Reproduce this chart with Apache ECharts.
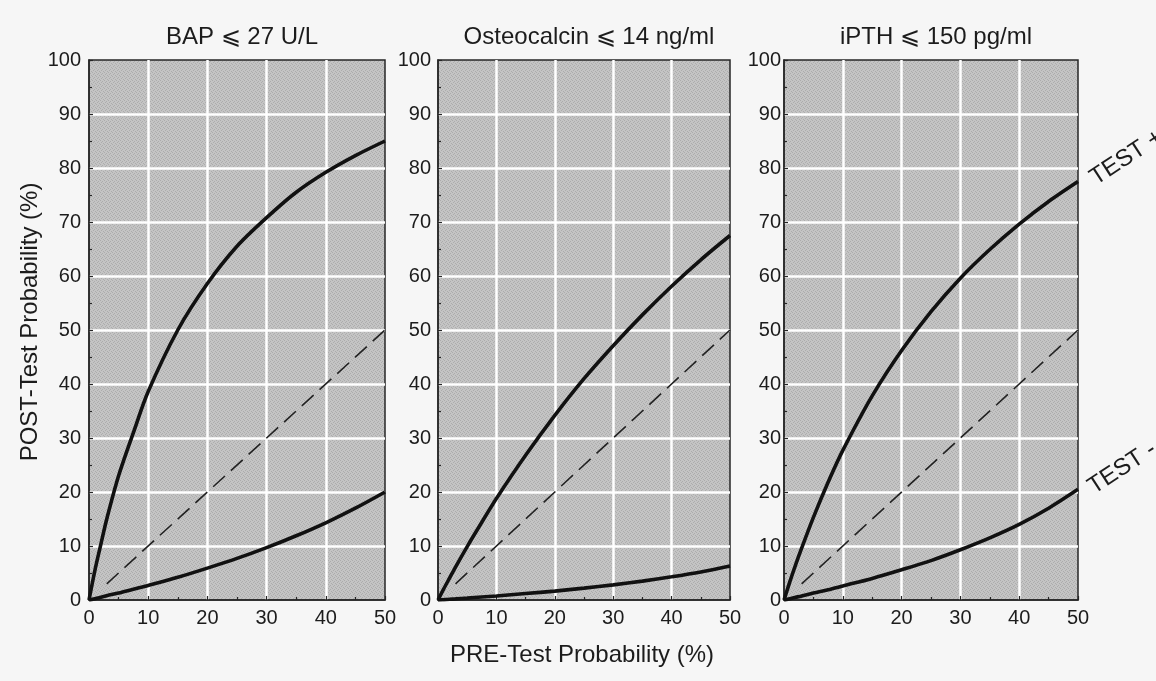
<!DOCTYPE html>
<html>
<head>
<meta charset="utf-8">
<script src="https://cdn.jsdelivr.net/npm/echarts@6/dist/echarts.min.js"></script>
<style>
html,body{margin:0;padding:0;background:#f6f6f6;}
#c{width:1156px;height:681px;}
</style>
</head>
<body>
<div id="c"></div>
<script>
// Data
const panelTitles = ['BAP \u2A7D 27 U/L', 'Osteocalcin \u2A7D 14 ng/ml', 'iPTH \u2A7D 150 pg/ml'];
const preTest = [0, 1, 2, 3, 5, 7.5, 10, 15, 20, 25, 30, 35, 40, 45, 50];
const bapPos = [0, 5.5, 10.3, 15, 23, 31, 38.6, 50, 58.6, 65.5, 70.8, 75.5, 79.2, 82.3, 85];
const bapNeg = [0, 0.25, 0.5, 0.8, 1.3, 2, 2.7, 4.2, 5.9, 7.7, 9.7, 11.9, 14.3, 17, 20];
const ostPos = [0, 2.1, 4.1, 6.1, 9.9, 14.4, 18.8, 26.8, 34.2, 41, 47.1, 52.8, 58.1, 63, 67.5];
const ostNeg = [0, 0.07, 0.14, 0.2, 0.35, 0.55, 0.74, 1.2, 1.65, 2.2, 2.8, 3.5, 4.3, 5.2, 6.3];
const pthPos = [0, 3.4, 6.6, 9.6, 15.3, 21.8, 27.7, 37.8, 46.2, 53.4, 59.6, 64.9, 69.6, 73.8, 77.5];
const pthNeg = [0, 0.25, 0.5, 0.75, 1.3, 1.9, 2.6, 4, 5.6, 7.3, 9.3, 11.5, 14, 17, 20.5];
const diagX = [3, 50];
const diagY = [3, 50];
const xTicks = {min: 0, max: 50, interval: 10};
const yTicks = {min: 0, max: 100, interval: 10};

const posSeries = [bapPos, ostPos, pthPos];
const negSeries = [bapNeg, ostNeg, pthNeg];

const gridBoxes = [
  {left: 89, width: 296, labelMargin: 8},
  {left: 438, width: 292, labelMargin: 7},
  {left: 784, width: 294, labelMargin: 3}
];
const FONT = '"Liberation Sans", Arial, Helvetica, sans-serif';
const INK = '#1c1c1c';

// stippled grey background pattern
function makePattern() {
  const c = document.createElement('canvas');
  c.width = 4; c.height = 4;
  const ctx = c.getContext('2d');
  ctx.fillStyle = '#c4c4c4';
  ctx.fillRect(0, 0, 4, 4);
  ctx.fillStyle = '#acacac';
  [[0,0],[2,1],[1,2],[3,3]].forEach(p => ctx.fillRect(p[0], p[1], 1, 1));
  return c;
}
const pattern = {image: makePattern(), repeat: 'repeat'};

function pairs(xs, ys) { return xs.map((x, i) => [x, ys[i]]); }

const grids = [], xAxes = [], yAxes = [], series = [], titles = [];
gridBoxes.forEach((g, i) => {
  grids.push({left: g.left, top: 60, width: g.width, height: 540, show: true,
    backgroundColor: pattern, borderColor: '#262626', borderWidth: 1.5, z: 0});
  xAxes.push({gridIndex: i, type: 'value', min: xTicks.min, max: xTicks.max, interval: xTicks.interval,
    axisLine: {show: true, lineStyle: {color: '#262626', width: 1.5}},
    axisTick: {show: true, inside: true, length: 4, lineStyle: {color: '#262626', width: 1.2}},
    minorTick: {show: true, splitNumber: 2, length: 3, lineStyle: {color: '#262626', width: 1.2}},
    axisLabel: {fontSize: 20, color: INK, margin: 8, fontFamily: FONT},
    splitLine: {show: true, showMinLine: false, showMaxLine: false, lineStyle: {color: '#ffffff', width: 2.5}}});
  yAxes.push({gridIndex: i, type: 'value', min: yTicks.min, max: yTicks.max, interval: yTicks.interval,
    axisLine: {show: true, lineStyle: {color: '#262626', width: 1.5}},
    axisTick: {show: true, inside: true, length: 4, lineStyle: {color: '#262626', width: 1.2}},
    minorTick: {show: true, splitNumber: 2, length: 3, lineStyle: {color: '#262626', width: 1.2}},
    axisLabel: {fontSize: 20, color: INK, margin: g.labelMargin, fontFamily: FONT},
    splitLine: {show: true, showMinLine: false, showMaxLine: false, lineStyle: {color: '#ffffff', width: 2.5}}});
  titles.push({text: panelTitles[i], left: g.left + g.width / 2, top: 20, textAlign: 'center',
    textStyle: {fontSize: 24, fontWeight: 'normal', color: INK, fontFamily: FONT}});
  series.push({type: 'line', xAxisIndex: i, yAxisIndex: i, data: pairs(preTest, posSeries[i]),
    smooth: 0.3, showSymbol: false, lineStyle: {color: '#111', width: 3.6}, z: 5});
  series.push({type: 'line', xAxisIndex: i, yAxisIndex: i, data: pairs(preTest, negSeries[i]),
    smooth: 0.3, showSymbol: false, lineStyle: {color: '#111', width: 3.6}, z: 5});
  series.push({type: 'line', xAxisIndex: i, yAxisIndex: i, data: pairs(diagX, diagY),
    showSymbol: false, lineStyle: {color: '#222', width: 1.6, type: [16, 8]}, z: 4});
});

const chart = echarts.init(document.getElementById('c'));
chart.setOption({
  backgroundColor: '#f6f6f6',
  animation: false,
  title: titles,
  grid: grids,
  xAxis: xAxes,
  yAxis: yAxes,
  series: series,
  graphic: [
    {type: 'text', x: 582, y: 655, style: {text: 'PRE-Test Probability (%)', fontSize: 24, fill: INK, fontFamily: FONT, textAlign: 'center', textVerticalAlign: 'middle'}},
    {type: 'text', x: 30, y: 322, rotation: Math.PI / 2, style: {text: 'POST-Test Probability (%)', fontSize: 24, fill: INK, fontFamily: FONT, textAlign: 'center', textVerticalAlign: 'middle'}},
    {type: 'text', x: 1099, y: 190, rotation: 0.58, style: {text: 'TEST +', fontSize: 24, fill: INK, fontFamily: FONT, textAlign: 'left', textVerticalAlign: 'bottom'}},
    {type: 'text', x: 1097, y: 499, rotation: 0.58, style: {text: 'TEST -', fontSize: 24, fill: INK, fontFamily: FONT, textAlign: 'left', textVerticalAlign: 'bottom'}}
  ]
});
</script>
</body>
</html>
